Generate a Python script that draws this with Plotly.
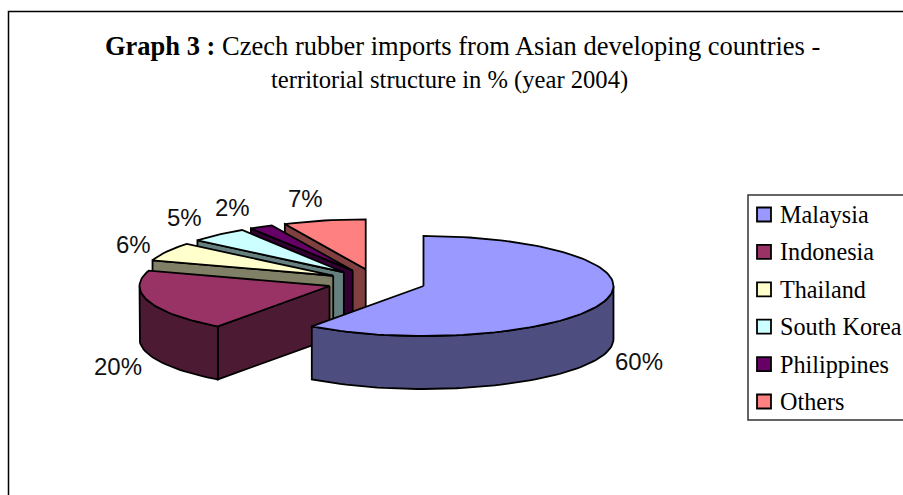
import math
import plotly.graph_objects as go

# Chart content
categories = ["Malaysia", "Indonesia", "Thailand", "South Korea", "Philippines", "Others"]
shares = [60, 20, 6, 5, 2, 7]
top_colours = ["#9999FF", "#993366", "#FFFFCC", "#CCFFFF", "#660066", "#FF8080"]
side_colours = ["#4D4D80", "#4D1A33", "#808066", "#668080", "#330033", "#804040"]

# Pie projection, in page pixels
CENTRE_X, CENTRE_Y = 376.5, 282
RADIUS_X, RADIUS_Y = 190, 50
DEPTH = 53
EXPLODE = 0.26
OUTLINE = dict(color="black", width=1.8)


def rim_point(cx, cy, angle):
    """Point on the top ellipse; angle is in degrees clockwise from twelve o'clock."""
    rad = math.radians(angle)
    return cx + RADIUS_X * math.sin(rad), cy - RADIUS_Y * math.cos(rad)


def arc(cx, cy, start, end, drop=0):
    steps = max(2, int(abs(end - start) / 2))
    pts = [rim_point(cx, cy, start + (end - start) * i / steps) for i in range(steps + 1)]
    return [(x, y + drop) for x, y in pts]


def polygon(points, colour):
    return go.Scatter(
        x=[p[0] for p in points] + [points[0][0]],
        y=[p[1] for p in points] + [points[0][1]],
        mode="lines", fill="toself", fillcolor=colour, line=OUTLINE,
        hoverinfo="skip", showlegend=False,
    )


fig = go.Figure()

# Slices are laid out clockwise from twelve o'clock, then painted back to front
slices = []
cumulative = 0
for i, share in enumerate(shares):
    start = cumulative * 3.6
    end = (cumulative + share) * 3.6
    mid = math.radians((start + end) / 2)
    cx = CENTRE_X + RADIUS_X * EXPLODE * math.sin(mid)
    cy = CENTRE_Y - RADIUS_Y * EXPLODE * math.cos(mid)
    slices.append((i, start, end, cx, cy))
    cumulative += share

for i, start, end, cx, cy in sorted(slices, key=lambda s: (s[4], s[0] == 0)):
    # Cut face on the leading edge, visible on the left half of the pie
    if start >= 180:
        corner = rim_point(cx, cy, start)
        fig.add_trace(polygon(
            [(cx, cy), corner, (corner[0], corner[1] + DEPTH), (cx, cy + DEPTH)],
            side_colours[i],
        ))
    # Outer wall, visible only along the front half of the ellipse
    lo, hi = max(start, 90), min(end, 270)
    if lo < hi:
        fig.add_trace(polygon(
            arc(cx, cy, lo, hi) + arc(cx, cy, hi, lo, DEPTH),
            side_colours[i],
        ))
    fig.add_trace(polygon([(cx, cy)] + arc(cx, cy, start, end), top_colours[i]))

annotations = []

# Percentage labels around the pie
label_positions = [(639, 361), (118, 366), (133, 244), (184, 217), (232, 207), (305, 198)]
for share, (x, y) in zip(shares, label_positions):
    annotations.append(dict(
        x=x, y=y, text=f"{share}%", showarrow=False,
        font=dict(family="Liberation Sans", size=24, color="#111111"),
    ))

# Legend panel
LEGEND_LEFT, LEGEND_TOP, LEGEND_BOTTOM = 748, 195, 420
ROW_FIRST, ROW_STEP = 214.5, 37.4
fig.add_trace(go.Scatter(
    x=[LEGEND_LEFT + 16] * len(categories),
    y=[ROW_FIRST + ROW_STEP * i for i in range(len(categories))],
    mode="markers",
    marker=dict(symbol="square", size=14, color=top_colours, line=dict(color="black", width=1.8)),
    hoverinfo="skip", showlegend=False,
))
for i, name in enumerate(categories):
    annotations.append(dict(
        x=LEGEND_LEFT + 30, y=ROW_FIRST + ROW_STEP * i, text=name, xanchor="left",
        showarrow=False, font=dict(family="Liberation Serif", size=24.2, color="black"),
    ))

# Two-line title, first words in bold
annotations.append(dict(
    x=462.5, y=46, yanchor="middle", showarrow=False,
    text="<b>Graph 3 :</b> Czech rubber imports from Asian developing countries -",
    font=dict(family="Liberation Serif", size=26.5, color="black"),
))
annotations.append(dict(
    x=449, y=80, yanchor="middle", showarrow=False,
    text="territorial structure in % (year 2004)",
    font=dict(family="Liberation Serif", size=24.6, color="black"),
))

shapes = [
    dict(type="rect", x0=LEGEND_LEFT, x1=920, y0=LEGEND_TOP, y1=LEGEND_BOTTOM,
         line=dict(color="#333333", width=1.5)),
    # Chart frame: left and top rules, running off the page on the other sides
    dict(type="rect", x0=8.5, x1=920, y0=11.5, y1=520, line=dict(color="black", width=1.5)),
]

fig.update_layout(
    width=903, height=495,
    margin=dict(l=0, r=0, t=0, b=0, autoexpand=False),
    paper_bgcolor="white", plot_bgcolor="white",
    xaxis=dict(range=[0, 903], visible=False, fixedrange=True),
    yaxis=dict(range=[495, 0], visible=False, fixedrange=True),
    showlegend=False,
    annotations=annotations,
    shapes=shapes,
)

fig.write_html("out.html", config={"displayModeBar": False})
